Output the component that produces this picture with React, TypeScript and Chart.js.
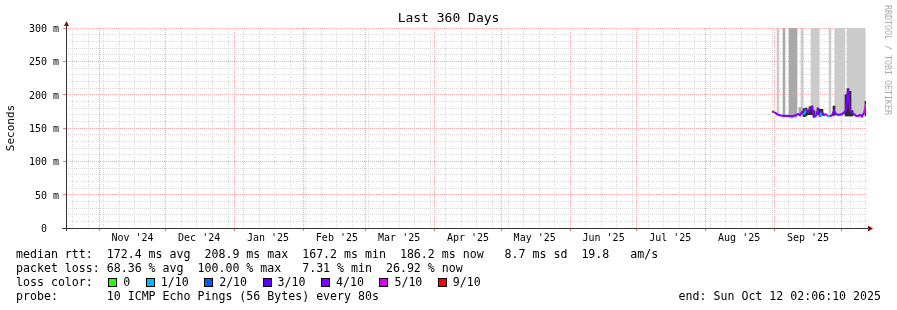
import React, { useEffect, useRef } from 'react';
import { Chart, registerables } from 'chart.js';

Chart.register(...registerables);

const FONT = '"DejaVu Sans Mono", monospace';
const DAY_MS = 86400000;
const END_MS = Date.UTC(2025, 9, 12, 2, 6, 10);
const SPAN_DAYS = 360;
const START_MS = END_MS - SPAN_DAYS * DAY_MS;

// ---- axis data ----
const MONTH_STARTS = ['2024-11-01', '2024-12-01', '2025-01-01', '2025-02-01', '2025-03-01', '2025-04-01',
  '2025-05-01', '2025-06-01', '2025-07-01', '2025-08-01', '2025-09-01', '2025-10-01'];
const MONTH_LABELS = ["Nov '24", "Dec '24", "Jan '25", "Feb '25", "Mar '25", "Apr '25",
  "May '25", "Jun '25", "Jul '25", "Aug '25", "Sep '25"];
const FIRST_WEEK = '2024-10-20';
const Y_MAX = 300;
const Y_MINOR_STEP = 10;
const Y_MAJOR_STEP = 50;

// ---- series data (one sample every 0.9 days, starting day 317.7 of the 360 day window) ----
const SAMPLE_FIRST_DAY = 317.7;
const SAMPLE_STEP_DAYS = 0.9;

const medianRtt = [
  174.6, 174, 172, 170, 169, 168.5, 168.5, 168, 168.5, 168,
  167.5, 168.5, 169, 171, 169, 174, 170, 178, 174, 179,
  181, 168, 168.5, 177, 167.5, 174, 169.5, 171, 167.5, 168,
  169, 176, 171, 170, 170, 171, 173, 177, 208.9, 176,
  173, 171, 168.5, 168, 169.5, 167.5, 173, 186.2,
];

const lossPings = [
  9, 4, 4, 4, 4, 4, 4, 4, 4, 4,
  4, 4, 4, 4, 4, 4, 1, 4, 4, 4,
  4, 4, 4, 4, 1, 4, 4, 5, 1, 4,
  4, 4, 4, 4, 4, 4, 4, 4, 4, 4,
  4, 4, 4, 4, 4, 4, 5, 4,
];

type Range = [number, number] | null;
const N = null;

const smokeLight: Range[] = [
  N, N, N, [168, 310], N, N, N, N, N, N,
  N, N, N, N, N, [171, 310], N, N, N, N,
  [176, 310], [166, 310], [166, 310], [172, 310], N, N, N, N, N, [166, 310],
  N, N, [168, 310], [168, 310], [168, 310], [168, 310], [170, 310], N, [172, 310], [172, 310],
  [170, 310], [168, 310], [166, 310], [166, 310], [167, 310], [165, 310], [170, 310], N,
];

const smokeMedium: Range[] = [
  N, N, N, N, N, N, [166, 310], N, N, [166, 310],
  [165, 310], [166, 310], [166, 310], N, [168, 181], N, N, N, N, N,
  N, N, N, N, N, N, N, N, N, N,
  N, N, N, N, N, N, N, N, N, N,
  N, N, N, N, N, N, N, N,
];

const smokeDense: Range[] = [
  N, N, N, N, N, N, N, N, N, N,
  N, N, N, N, N, N, [167, 179], [168, 180], [170, 177], [170, 182],
  [170, 183], [166, 176], N, [170, 180], [167, 178], [169, 178], N, N, N, N,
  N, [169, 183], N, N, N, N, N, [168, 200], [168, 209], [168, 205],
  [168, 176], N, N, N, N, N, N, [168, 190],
];

const LOSS_LABELS = ['0', '1/10', '2/10', '3/10', '4/10', '5/10', '9/10'];
const LOSS_COLORS = ['#26ff00', '#00b8ff', '#0059ff', '#5e00ff', '#7e00ff', '#dd00ff', '#ff0000'];
const LOSS_PINGS_MIN = [0, 1, 2, 3, 4, 5, 9];

const STAT_LINES = [
  'median rtt:  172.4 ms avg  208.9 ms max  167.2 ms min  186.2 ms now   8.7 ms sd  19.8   am/s',
  'packet loss: 68.36 % avg  100.00 % max   7.31 % min  26.92 % now',
];
const PROBE_LINE = 'probe:       10 ICMP Echo Pings (56 Bytes) every 80s';
const END_LINE = 'end: Sun Oct 12 02:06:10 2025';
const TITLE = 'Last 360 Days';
const Y_TITLE = 'Seconds';
const WATERMARK = 'RRDTOOL / TOBI OETIKER';

// ---- styles ----
const MAJOR_GRID = '#f2aaaa';
const MINOR_GRID = '#d9d9d9';
const MAJOR_TICK = '#e58080';
const AXIS_COLOR = '#333333';
const ARROW_COLOR = '#7f1010';

const dayOf = (iso: string) => (Date.parse(iso + 'T00:00:00Z') - START_MS) / DAY_MS;

function lossColor(pings: number) {
  let idx = 0;
  for (let i = 0; i < LOSS_PINGS_MIN.length; i++) if (pings >= LOSS_PINGS_MIN[i]) idx = i;
  return LOSS_COLORS[idx];
}

type XTick = { value: number; kind: 'major' | 'minor' | 'label'; label: string };

function buildXTicks(): XTick[] {
  const ticks: XTick[] = [];
  const near = (a: number, b: number) => Math.abs(a - b) < 0.01;
  const months = MONTH_STARTS.map(dayOf);
  months.forEach((d) => ticks.push({ value: d, kind: 'major', label: '' }));
  for (let d = dayOf(FIRST_WEEK); d < SPAN_DAYS; d += 7) {
    if (!ticks.some((t) => near(t.value, d))) ticks.push({ value: d, kind: 'minor', label: '' });
  }
  MONTH_LABELS.forEach((lab, i) => {
    const v = months[i] + 15;
    const existing = ticks.find((t) => near(t.value, v));
    if (existing) existing.label = lab;
    else ticks.push({ value: v, kind: 'label', label: lab });
  });
  ticks.sort((a, b) => a.value - b.value);
  return ticks;
}

const decorPlugin = {
  id: 'rrdDecor',
  afterDraw(chart: any) {
    const { ctx, chartArea } = chart;
    const { left, right, top, bottom } = chartArea;
    const ax = Math.round(left) + 0.5;
    const ay = Math.round(bottom) + 0.5;
    ctx.save();
    ctx.strokeStyle = AXIS_COLOR;
    ctx.lineWidth = 1;
    ctx.beginPath();
    ctx.moveTo(left - 4, ay);
    ctx.lineTo(right + 2, ay);
    ctx.moveTo(ax, bottom + 3);
    ctx.lineTo(ax, top - 2);
    ctx.stroke();
    ctx.fillStyle = ARROW_COLOR;
    ctx.beginPath();
    ctx.moveTo(right + 7, ay);
    ctx.lineTo(right + 2, ay - 3);
    ctx.lineTo(right + 2, ay + 3);
    ctx.closePath();
    ctx.fill();
    ctx.beginPath();
    ctx.moveTo(ax, top - 7);
    ctx.lineTo(ax - 2.5, top - 2);
    ctx.lineTo(ax + 2.5, top - 2);
    ctx.closePath();
    ctx.fill();
    ctx.translate(887, 5);
    ctx.rotate(Math.PI / 2);
    ctx.font = `8.3px ${FONT}`;
    ctx.fillStyle = '#aaaaaa';
    ctx.textBaseline = 'middle';
    ctx.textAlign = 'left';
    ctx.fillText(WATERMARK, 0, 0);
    ctx.restore();
  },
};

export default function App() {
  const ref = useRef<HTMLCanvasElement>(null);

  useEffect(() => {
    const canvas = ref.current;
    if (!canvas) return;
    const xTicks = buildXTicks();
    const tickAt = (i: number) => xTicks[i];
    const sampleDays = medianRtt.map((_, i) => SAMPLE_FIRST_DAY + i * SAMPLE_STEP_DAYS);
    const rangeData = (arr: Range[]) => arr.map((r, i) => ({ x: sampleDays[i], y: r }));
    const barCommon = {
      type: 'bar' as const,
      grouped: false,
      barPercentage: 1,
      categoryPercentage: 1,
      borderWidth: 0,
      borderSkipped: false,
      xAxisID: 'x',
      yAxisID: 'y',
    };

    Chart.defaults.font.family = FONT;

    const chart = new Chart(canvas, {
      type: 'bar',
      data: {
        datasets: [
          {
            type: 'line',
            label: 'median rtt',
            data: medianRtt.map((v, i) => ({ x: sampleDays[i], y: v })),
            borderColor: LOSS_COLORS[4],
            borderWidth: 2,
            pointRadius: 0,
            tension: 0,
            order: 0,
            xAxisID: 'x',
            yAxisID: 'y',
            segment: {
              borderColor: (c: any) => lossColor(lossPings[c.p0DataIndex]),
            },
          } as any,
          { ...barCommon, label: 'dense smoke', data: rangeData(smokeDense), backgroundColor: '#2b2b2b', order: 1 } as any,
          { ...barCommon, label: 'smoke', data: rangeData(smokeMedium), backgroundColor: '#a9a9a9', order: 2 } as any,
          { ...barCommon, label: 'light smoke', data: rangeData(smokeLight), backgroundColor: '#cbcbcb', order: 3 } as any,
        ],
      },
      options: {
        responsive: false,
        maintainAspectRatio: false,
        devicePixelRatio: 1,
        animation: false,
        events: [],
        layout: { padding: { left: 0, right: 0, top: 0, bottom: 62 } },
        plugins: {
          legend: { display: false },
          tooltip: { enabled: false },
          title: {
            display: true,
            text: TITLE,
            color: '#000',
            font: { family: FONT, size: 13, weight: 'normal' },
            padding: { top: 11, bottom: 1.4 },
          },
        },
        scales: {
          x: {
            type: 'linear',
            position: 'bottom',
            min: 0,
            max: SPAN_DAYS,
            offset: false,
            afterBuildTicks: (s: any) => {
              s.ticks = xTicks.map((t) => ({ value: t.value }));
            },
            afterFit: (s: any) => {
              s.height = 20;
            },
            grid: {
              offset: false,
              lineWidth: 1,
              color: (c: any) => {
                const t = tickAt(c.index);
                const k = t ? t.kind : 'label';
                return k === 'major' ? MAJOR_GRID : k === 'minor' ? MINOR_GRID : 'rgba(0,0,0,0)';
              },
              drawTicks: true,
              tickLength: 3,
              tickColor: (c: any) => {
                const t = tickAt(c.index);
                return t && t.kind === 'major' ? MAJOR_TICK : 'rgba(0,0,0,0)';
              },
            },
            border: { display: false, dash: [1, 1] },
            ticks: {
              autoSkip: false,
              maxRotation: 0,
              minRotation: 0,
              padding: 1,
              color: '#000',
              font: { family: FONT, size: 10 },
              callback: (_v: any, i: number) => {
                const t = tickAt(i);
                return t ? t.label : '';
              },
            },
          },
          y: {
            type: 'linear',
            position: 'left',
            min: 0,
            max: Y_MAX,
            afterFit: (s: any) => {
              s.width = 66;
            },
            grid: {
              lineWidth: 1,
              color: (c: any) => (c.tick && c.tick.value % Y_MAJOR_STEP === 0 ? MAJOR_GRID : MINOR_GRID),
              drawTicks: true,
              tickLength: 3,
              tickColor: (c: any) => (c.tick && c.tick.value % Y_MAJOR_STEP === 0 ? MAJOR_TICK : 'rgba(0,0,0,0)'),
            },
            border: { display: false, dash: [1, 1] },
            ticks: {
              stepSize: Y_MINOR_STEP,
              autoSkip: false,
              padding: 4,
              labelOffset: 1.5,
              color: '#000',
              font: { family: FONT, size: 10 },
              callback: (v: any) => {
                const n = Number(v);
                if (n % Y_MAJOR_STEP !== 0) return '';
                return n === 0 ? '0  ' : `${n} m`;
              },
            },
            title: {
              display: true,
              text: Y_TITLE,
              color: '#000',
              font: { family: FONT, size: 11 },
              padding: { top: 4.4, bottom: 0 },
            },
          },
          yRight: {
            type: 'linear',
            position: 'right',
            display: true,
            grid: { display: false, drawTicks: false },
            border: { display: false },
            ticks: { display: false },
            afterFit: (s: any) => {
              s.width = 31;
            },
          },
        },
      } as any,
      plugins: [decorPlugin],
    });
    return () => chart.destroy();
  }, []);

  const textStyle: React.CSSProperties = {
    position: 'absolute',
    left: 16,
    fontFamily: FONT,
    fontSize: 11.6,
    lineHeight: '14px',
    whiteSpace: 'pre',
    color: '#000',
  };

  return (
    <div style={{ position: 'absolute', left: 0, top: 0, width: 897, height: 310, background: '#fff', overflow: 'hidden' }}>
      <canvas ref={ref} width={897} height={310} style={{ position: 'absolute', left: 0, top: 0, width: 897, height: 310 }} />
      <div style={{ ...textStyle, top: 247 }}>{STAT_LINES[0]}</div>
      <div style={{ ...textStyle, top: 261 }}>{STAT_LINES[1]}</div>
      <div style={{ ...textStyle, top: 275, display: 'flex', alignItems: 'center', height: 14 }}>
        <span>{'loss color:  '}</span>
        {LOSS_LABELS.map((lab, i) => (
          <React.Fragment key={lab}>
            <span
              style={{
                display: 'inline-block',
                width: 9,
                height: 9,
                boxSizing: 'border-box',
                border: '1px solid #000',
                background: LOSS_COLORS[i],
                marginLeft: i === 0 ? 1.5 : 0,
                marginRight: 6,
              }}
            />
            <span style={{ marginRight: 15.5 }}>{lab}</span>
          </React.Fragment>
        ))}
      </div>
      <div style={{ ...textStyle, top: 289 }}>{PROBE_LINE}</div>
      <div style={{ ...textStyle, left: 'auto', right: 16, top: 289 }}>{END_LINE}</div>
    </div>
  );
}
